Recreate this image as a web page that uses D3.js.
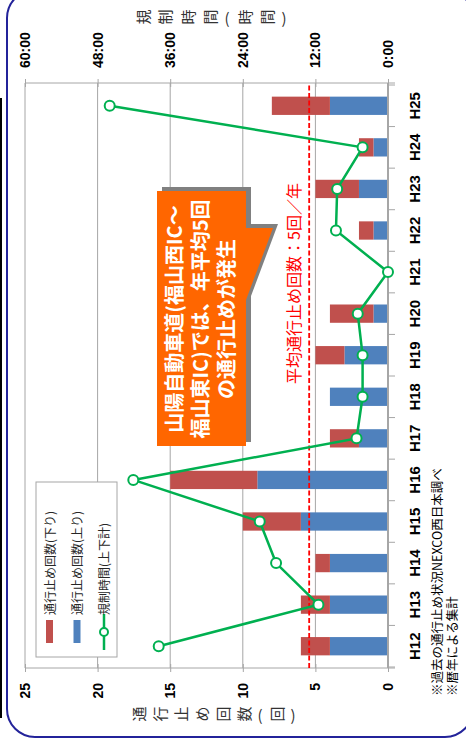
<!DOCTYPE html>
<html>
<head>
<meta charset="utf-8">
<script src="https://cdn.jsdelivr.net/npm/d3@7"></script>
<style>
  body { margin: 0; background: #fff; }
  text { font-family: "Noto Sans CJK JP", "Liberation Sans", sans-serif; }
  .tick text { font-family: "Liberation Sans", Arial, sans-serif; font-weight: bold; font-size: 14px; fill: #000; }
</style>
</head>
<body>
<div id="chart"></div>
<script>
// data
const years = ["H12","H13","H14","H15","H16","H17","H18","H19","H20","H21","H22","H23","H24","H25"];
const countUp   = [4, 4, 4, 6, 9, 2, 4, 3, 1, 0, 1, 2, 1, 4];   // 通行止め回数(上り)
const countDown = [2, 2, 1, 4, 6, 2, 0, 2, 3, 0, 1, 3, 1, 4];   // 通行止め回数(下り)
const hours     = [37.9, 11.5, 18.5, 21.2, 42.1, 5.2, 4.2, 4.2, 5.0, 0, 8.6, 8.4, 4.2, 46.0]; // 規制時間(上下計)

const countTicks = [0, 5, 10, 15, 20, 25];
const hourTicks = [0, 12, 24, 36, 48, 60];
const hourTickLabels = ["0:00", "12:00", "24:00", "36:00", "48:00", "60:00"];
const legendLabels = ["通行止め回数(下り)", "通行止め回数(上り)", "規制時間(上下計)"];
const countTitle = "通行止め回数(回)";
const hourTitle = "規制時間(時間)";
const calloutLines = ["山陽自動車道(福山西IC〜", "福山東IC)では、年平均5回", "の通行止めが発生"];
const avgLabel = "平均通行止め回数：5回／年";
const notes = ["※過去の通行止め状況NEXCO西日本調べ", "※暦年による集計"];

const BLUE = "#4F81BD", RED = "#C0504D", GREEN = "#00B050", GRID = "#A6A6A6";

// page is 466x742; the chart is laid out unrotated (742 wide, 466 tall) and turned -90deg
const W = 742, H = 466;
const svg = d3.select("#chart").append("svg").attr("width", 466).attr("height", 742);

// outer frame
svg.append("rect").attr("x", 7).attr("y", -10).attr("width", 466).attr("height", 747)
  .attr("rx", 28).attr("fill", "none").attr("stroke", "#23239A").attr("stroke-width", 2);
svg.append("line").attr("x1", 1).attr("x2", 1).attr("y1", 98).attr("y2", 718)
  .attr("stroke", "#000").attr("stroke-width", 2);

const g = svg.append("g").attr("transform", `translate(0,${W}) rotate(-90)`);

const left = 74, right = 659;
const x = d3.scaleBand().domain(years).range([left + 1, right - 2]).paddingInner(0.56).paddingOuter(0.28);
const yCount = d3.scaleLinear().domain([0, 25]).range([388, 25]);
const yHours = d3.scaleLinear().domain([0, 60]).range([388, 25]);

// gridlines
g.append("g").selectAll("line").data(countTicks.slice(1)).join("line")
  .attr("x1", left).attr("x2", right)
  .attr("y1", d => yCount(d)).attr("y2", d => yCount(d))
  .attr("stroke", GRID).attr("stroke-width", 1);

// stacked bars
const rows = years.map((yr, i) => ({ year: yr, up: countUp[i], down: countDown[i] }));
const stack = d3.stack().keys(["up", "down"])(rows);
const colors = { up: BLUE, down: RED };
g.append("g").selectAll("g").data(stack).join("g")
  .attr("fill", d => colors[d.key])
  .selectAll("rect").data(d => d).join("rect")
  .attr("x", d => x(d.data.year))
  .attr("width", x.bandwidth())
  .attr("y", d => yCount(d[1]))
  .attr("height", d => yCount(d[0]) - yCount(d[1]));

// category axis
const xAxis = g.append("g").attr("transform", "translate(0,388)")
  .call(d3.axisBottom(x).tickSize(0).tickPadding(21));
xAxis.select(".domain").attr("d", `M${left},0H${right}`).attr("stroke", GRID).attr("stroke-width", 2);
xAxis.selectAll(".tick text").attr("dy", "0.71em").style("font-size", "15px");
xAxis.append("g").selectAll("line").data(d3.range(years.length + 1)).join("line")
  .attr("x1", i => left + 1 + i * x.step()).attr("x2", i => left + 1 + i * x.step())
  .attr("y1", 0).attr("y2", 7).attr("stroke", GRID);

// count axis
const cAxis = g.append("g").attr("transform", `translate(${left},0)`)
  .call(d3.axisLeft(yCount).tickValues(countTicks).tickSize(4).tickSizeOuter(0).tickPadding(11));
cAxis.select(".domain").attr("d", "M0,25V395").attr("stroke", GRID);
cAxis.selectAll(".tick line").attr("x1", 4).attr("stroke", GRID);

// hours axis
const hAxis = g.append("g").attr("transform", `translate(${right},0)`)
  .call(d3.axisRight(yHours).tickValues(hourTicks).tickSize(4).tickSizeOuter(0).tickPadding(11)
    .tickFormat((d, i) => hourTickLabels[i]));
hAxis.select(".domain").attr("d", "M0,25V395").attr("stroke", GRID);
hAxis.selectAll(".tick line").attr("x1", -4).attr("stroke", GRID);

// average line
const avg = d3.mean(rows, d => d.up + d.down);
g.append("line").attr("x1", left).attr("x2", right)
  .attr("y1", yCount(avg)).attr("y2", yCount(avg))
  .attr("stroke", "#FF0000").attr("stroke-width", 1.8).attr("stroke-dasharray", "5,2.5");
g.append("text").attr("x", 358).attr("y", 300).attr("font-size", 16).attr("fill", "#FF0000")
  .text(avgLabel);

// hours line
const line = d3.line().x((d, i) => x(years[i]) + x.bandwidth() / 2).y(d => yHours(d));
g.append("path").datum(hours).attr("d", line)
  .attr("fill", "none").attr("stroke", GREEN).attr("stroke-width", 2.5);
g.append("g").selectAll("circle").data(hours).join("circle")
  .attr("cx", (d, i) => x(years[i]) + x.bandwidth() / 2)
  .attr("cy", d => yHours(d)).attr("r", 5)
  .attr("fill", "#fff").attr("stroke", GREEN).attr("stroke-width", 2);

// callout
const bubble = "M296,157H551V246H514V273L442,246H296Z";
g.append("path").attr("d", bubble).attr("transform", "translate(4,5)").attr("fill", "#808080");
g.append("path").attr("d", bubble).attr("fill", "#FF6600");
g.append("g").selectAll("text").data(calloutLines).join("text")
  .attr("x", 423).attr("y", (d, i) => 182 + i * 26)
  .attr("text-anchor", "middle").attr("font-size", 20).attr("font-weight", "bold").attr("fill", "#fff")
  .text(d => d);

// legend
const lg = g.append("g");
lg.append("rect").attr("x", 85).attr("y", 36).attr("width", 175).attr("height", 81)
  .attr("fill", "#fff").attr("stroke", GRID);
const ly = [49.5, 77, 104];
lg.append("rect").attr("x", 99).attr("y", ly[0] - 3.5).attr("width", 23).attr("height", 7).attr("fill", RED);
lg.append("rect").attr("x", 99).attr("y", ly[1] - 3.5).attr("width", 23).attr("height", 7).attr("fill", BLUE);
lg.append("line").attr("x1", 92).attr("x2", 128).attr("y1", ly[2]).attr("y2", ly[2])
  .attr("stroke", GREEN).attr("stroke-width", 2.5);
lg.append("circle").attr("cx", 110).attr("cy", ly[2]).attr("r", 4)
  .attr("fill", "#fff").attr("stroke", GREEN).attr("stroke-width", 2);
lg.selectAll("text.lab").data(legendLabels).join("text").attr("class", "lab")
  .attr("x", 127).attr("y", (d, i) => ly[i] + 5)
  .attr("font-size", 12).attr("fill", "#262626").text(d => d);

// stacked axis titles (one glyph per position, brackets turned)
function stackedTitle(chars, cx, y0, adv, parenAdv) {
  let pos = y0;
  const items = Array.from(chars).map(c => {
    const paren = c === "(" || c === ")";
    const a = paren ? parenAdv : adv;
    const item = { c, paren, y: pos + a / 2 };
    pos += a;
    return item;
  });
  g.append("g").selectAll("text").data(items).join("text")
    .attr("x", cx).attr("y", d => d.y)
    .attr("text-anchor", "middle").attr("dominant-baseline", "central")
    .attr("transform", d => d.paren ? `rotate(90,${cx},${d.y})` : null)
    .attr("font-size", 15).attr("fill", "#333").text(d => d.c);
}
stackedTitle(countTitle, 28, 128, 21, 12);
stackedTitle(hourTitle, 725, 131, 22.5, 12);

// notes
g.append("g").selectAll("text").data(notes).join("text")
  .attr("x", 46).attr("y", (d, i) => 442 + i * 15)
  .attr("font-size", 12.5).attr("fill", "#000").text(d => d);
</script>
</body>
</html>
